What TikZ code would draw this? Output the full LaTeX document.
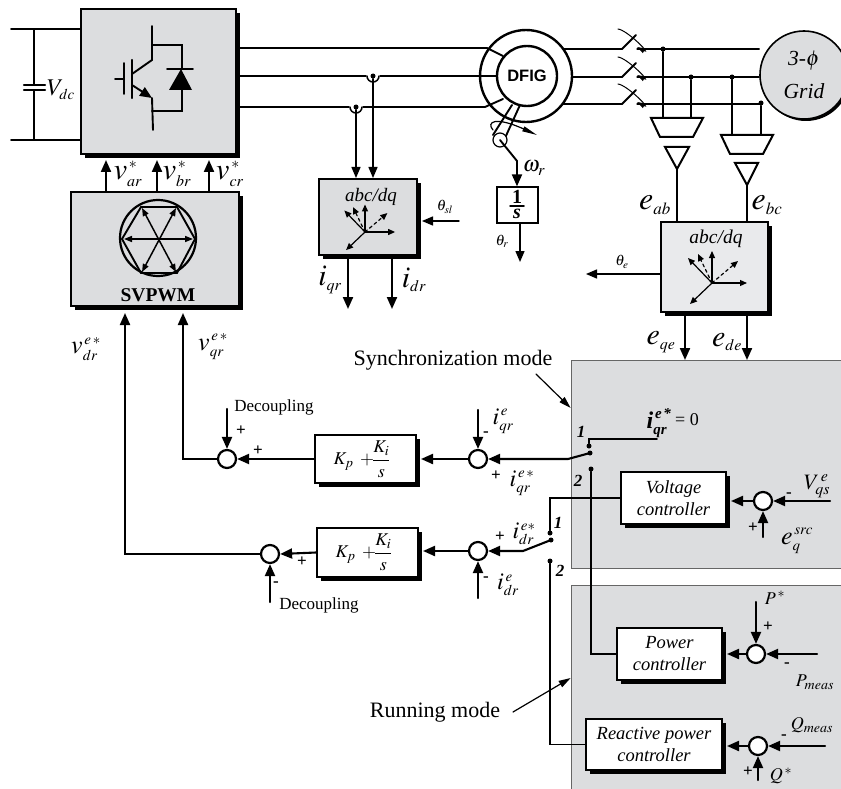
\documentclass[tikz,border=0pt]{standalone}
\usepackage{amsmath}
\usepackage{mathptmx}
\usepackage{fontspec}
\setmainfont{Liberation Serif}
\newfontfamily\dfigfont{Liberation Sans}
\usetikzlibrary{arrows.meta,shadows,calc}

\definecolor{panel}{HTML}{DCDDDF}
\definecolor{lightpanel}{HTML}{E9EAEC}

% big letters with small indices
\DeclareMathSizes{32}{32}{17}{12}
\DeclareMathSizes{30}{30}{16}{12}
\DeclareMathSizes{26}{26}{15}{10}
\DeclareMathSizes{24}{24}{15}{10}
\DeclareMathSizes{22}{22}{16}{10}
\DeclareMathSizes{18}{18}{14}{10}

\newcommand{\bi}[1]{\text{\bfseries\itshape #1}}

\tikzset{
  blockbox/.style={draw,line width=2pt,fill=panel,inner sep=0pt,
    drop shadow={shadow xshift=4pt,shadow yshift=-4pt,fill=black,opacity=1}},
  ctrlbox/.style={blockbox,fill=white,align=center,font=\itshape\fontsize{18.5}{22}\selectfont},
  sumnode/.style={draw,circle,line width=2.2pt,fill=white,minimum size=18pt,inner sep=0pt},
  lab/.style={inner sep=0pt,font=\fontsize{#1}{#1}\selectfont},
  itlab/.style={inner sep=0pt,font=\itshape\fontsize{#1}{#1}\selectfont},
  sig/.style={line width=2.1pt,-{Triangle[length=12pt,width=10pt]}},
  thinsig/.style={line width=1.4pt,-{Triangle[length=11pt,width=9pt]}},
  wire/.style={line width=1.9pt},
  thinwire/.style={line width=1.2pt},
  condot/.style={circle,fill=black,minimum size=5pt,inner sep=0pt},
}

% the rotating axes drawn inside both abc/dq blocks
\newcommand{\dqaxes}[2]{
\begin{scope}[shift={(#1)},scale=#2,-{Triangle[length=7pt,width=6pt]},line width=1.2pt]
\draw (0,0) -- (35,0);
\draw (0,0) -- (0,-32);
\draw (0,0) -- (-24,-25);
\draw (0,0) -- (-22,21);
\draw[dashed] (0,0) -- (26,-22);
\draw[dashed] (0,0) -- (-14,-29);
\end{scope}
}

% one breaker on the grid side, #1 is the point where the thin line starts
\newcommand{\breaker}[1]{
\draw[wire] (#1) ++(-16,0) -- ++(14,-14);
\draw[line width=1pt,-{Triangle[length=8pt,width=5pt]}] (#1) ++(-20,-20) .. controls ++(9,1) and ++(15,8) .. ++(19,18);
}

\begin{document}
\begin{tikzpicture}[x=1pt,y=-1pt,line cap=round]
\useasboundingbox (0,0) rectangle (841,789);
\clip (0,0) rectangle (841,789);

% grey panels
\node[draw=black!60,line width=0.7pt,fill=panel,minimum width=290pt,minimum height=208pt,inner sep=0pt] (syncpanel) at (716,464) {};
\node[draw=black!60,line width=0.7pt,fill=panel,minimum width=290pt,minimum height=214pt,inner sep=0pt] (runpanel) at (716,692) {};

% blocks
\node[blockbox,minimum width=155pt,minimum height=145pt] (inv) at (158.5,81.5) {};
\node[blockbox,minimum width=168pt,minimum height=114pt] (svpwm) at (155,249) {};
\node[blockbox,minimum width=98pt,minimum height=76pt] (rotdq) at (368,217) {};
\node[draw,line width=1.3pt,fill=white,minimum width=41pt,minimum height=36pt,inner sep=0pt] (integ) at (517.5,205) {};
\node[blockbox,fill=lightpanel,minimum width=107pt,minimum height=90pt] (griddq) at (714.5,267) {};
\node[ctrlbox,minimum width=101pt,minimum height=48pt] (piq) at (365.5,459) {};
\node[ctrlbox,minimum width=101pt,minimum height=49pt] (pid) at (367.5,552.5) {};
\node[ctrlbox,minimum width=105pt,minimum height=52pt] (volt) at (673.5,498) {Voltage\\controller};
\node[ctrlbox,minimum width=105pt,minimum height=52pt] (pow) at (669.5,654) {Power\\controller};
\node[ctrlbox,minimum width=136pt,minimum height=51pt] (react) at (654,744.5) {Reactive power\\controller};

% machine and grid
\node[draw,circle,line width=2.4pt,fill=white,minimum size=92pt,inner sep=0pt] (stator) at (526,76) {};
\node[draw,circle,line width=2.4pt,fill=white,minimum size=60pt,inner sep=0pt,font=\dfigfont\bfseries\fontsize{16.5}{16.5}\selectfont] (dfig) at (527,76) {DFIG};
\node[circle,fill=black,minimum size=88pt,inner sep=0pt] (gridshade) at (806,77) {};
\node[draw,circle,line width=1.6pt,fill=panel,minimum size=88pt,inner sep=0pt,align=center,font=\itshape\fontsize{21.5}{33}\selectfont] (grid) at (804,75) {3-$\phi$\\Grid};

% sums
\node[sumnode] (sumqo) at (227,459) {};
\node[sumnode] (sumqi) at (478,459) {};
\node[sumnode] (sumdo) at (270,554) {};
\node[sumnode] (sumdi) at (478,551) {};
\node[sumnode] (sumv) at (763,501) {};
\node[sumnode] (sump) at (756,654) {};
\node[sumnode] (sumr) at (758,746) {};

% named x positions and free ends
\coordinate (dcleft) at (11,29);
\coordinate (dcleftb) at (11,140);
\coordinate (capx) at (34,85);
\coordinate (capy) at (34,90);
\coordinate (aout) at (106,0);
\coordinate (bout) at (157,0);
\coordinate (cout) at (209,0);
\coordinate (phasea) at (240,48);
\coordinate (phaseb) at (240,76);
\coordinate (phasec) at (240,107);
\coordinate (taprb) at (373,76);
\coordinate (taprc) at (356,107);
\coordinate (qoutx) at (348,0);
\coordinate (doutx) at (392,0);
\coordinate (qoutend) at (348,309);
\coordinate (doutend) at (392,309);
\coordinate (slip) at (459,221);
\coordinate (vdrx) at (125,0);
\coordinate (vqrx) at (183,0);
\coordinate (decq) at (227,409);
\coordinate (decd) at (270,602);
\coordinate (qmeas) at (478,410);
\coordinate (dmeas) at (478,598);
\coordinate (vqs) at (830,501);
\coordinate (esrc) at (763,537);
\coordinate (pstar) at (756,602);
\coordinate (pmeas) at (817,654);
\coordinate (qstar) at (758,780);
\coordinate (qmeasr) at (825,746);
\coordinate (linea) at (563,49);
\coordinate (lineb) at (572,77);
\coordinate (linec) at (563,104);
\coordinate (gap) at (622,0);
\coordinate (gapr) at (637,0);

% dc link
\draw[wire] (dcleft) -- (dcleft -| inv.west);
\draw[wire] (dcleftb) -- (dcleftb -| inv.west);
\draw[wire] (dcleft -| capx) -- (capx);
\draw[wire] (capy) -- (dcleftb -| capy);
\draw[line width=2.1pt] (24,85) -- (45,85);
\draw[line width=2.1pt] (24,90) -- (45,90);
\node[lab=24] (vdc) at (61,90) {$V_{dc}$};

% igbt and diode
\draw[wire] (152,26) -- (152,60) -- (132,74);
\draw[line width=2.4pt] (132,60) -- (132,98);
\draw[wire] (124,63) -- (124,94);
\draw[wire] (115,79) -- (124,79);
\draw[wire,-{Triangle[length=12pt,width=10pt]}] (132,85) -- (152,98);
\draw[wire] (152,98) -- (153,130);
\draw[wire] (152,45) -- (182,45) -- (182,69);
\draw[wire] (182,90) -- (182,111) -- (152,111);
\draw[line width=1.9pt] (167,69) -- (193,69);
\fill (181,69) -- (169,90) -- (192,90) -- cycle;

% space vector hexagon
\draw[line width=2.2pt] (158,238) circle (38);
\draw[line width=1.9pt] (122,239) -- (141,207) -- (177,207) -- (195,239) -- (177,273) -- (141,273) -- cycle;
\draw[line width=1.5pt,{Triangle[length=8pt,width=6pt]}-{Triangle[length=8pt,width=6pt]}] (124,239) -- (193,239);
\draw[line width=1.5pt,{Triangle[length=8pt,width=6pt]}-{Triangle[length=8pt,width=6pt]}] (142,208) -- (176,272);
\draw[line width=1.5pt,{Triangle[length=8pt,width=6pt]}-{Triangle[length=8pt,width=6pt]}] (176,208) -- (142,272);
\node[inner sep=0pt,font=\bfseries\fontsize{19.5}{19.5}\selectfont] (svlabel) at (158,295) {SVPWM};

% svpwm outputs
\draw[sig] (aout |- svpwm.north) -- ($(aout |- inv.south)+(0,5)$);
\draw[sig] (bout |- svpwm.north) -- ($(bout |- inv.south)+(0,5)$);
\draw[sig] (cout |- svpwm.north) -- ($(cout |- inv.south)+(0,5)$);
\node[lab=30] (var) at (128,174) {$v_{ar}^{\,*}$};
\node[lab=30] (vbr) at (177,174) {$v_{br}^{\,*}$};
\node[lab=30] (vcr) at (230,174) {$v_{cr}^{\,*}$};

% rotor side phases
\draw[wire] (phasea) -- (487,48) -- (503,56);
\draw[wire] (phaseb) -- (497,76);
\draw[wire] (phasec) -- (485,107) -- (503,99);
\draw[white,line width=3.5pt] (taprb) ++(-5,0) -- ++(10,0);
\draw[white,line width=3.5pt] (taprc) ++(-5,0) -- ++(10,0);
\draw[line width=1.5pt] (taprb) ++(-6,0) arc[start angle=180,end angle=0,radius=6];
\draw[line width=1.5pt] (taprc) ++(-6,0) arc[start angle=180,end angle=0,radius=6];
\node[condot] (dotrb) at (taprb) {};
\node[condot] (dotrc) at (taprc) {};
\draw[thinsig] (dotrb) -- (dotrb |- rotdq.north);
\draw[thinsig] (dotrc) -- (dotrc |- rotdq.north);
\draw[sig] ($(qoutx |- rotdq.south)+(0,3)$) -- (qoutend);
\draw[sig] ($(doutx |- rotdq.south)+(0,3)$) -- (doutend);
\draw[thinsig] (slip) -- ($(slip -| rotdq.east)+(4,0)$);
\node[itlab=19] (rotdqtext) at (371,197) {abc/dq};
\dqaxes{365,232}{0.86}
\node[lab=30] (iqr) at (330,280) {$i_{qr}$};
\node[lab=30] (idr) at (414,280) {$i_{dr}$};
\node[lab=15] (thsl) at (445,207) {$\theta_{sl}$};

% shaft
\draw[wire] (512,105) -- (493,135);
\draw[wire] (520,105) -- (505,138);
\node[draw,circle,line width=1.2pt,fill=white,minimum size=14pt,inner sep=0pt] (shaft) at (500,140) {};
\draw[wire] (shaft.center) -- (517,161) coordinate (shaftend);
\draw[sig] (shaftend) -- (shaftend |- integ.north);
\draw[thinwire,-{Triangle[length=15pt,width=5pt]}] (493,130) .. controls (486,122) and (495,116) .. (537,135);
\draw[thinsig] (integ.south -| 520,0) -- (520,262);
\draw[line width=1.5pt] (510,206) -- (524,206);
\node[inner sep=0pt,font=\bfseries\fontsize{20}{20}\selectfont] (intnum) at (517,197) {1};
\node[inner sep=0pt,font=\bfseries\itshape\fontsize{20}{20}\selectfont] (intden) at (517,214) {s};
\node[lab=22] (omr) at (534,168) {$\omega_{r}$};
\node[lab=15] (thr) at (502,241) {$\theta_{r}$};

% stator lines and breakers
\draw[line width=2.1pt] (linea) -- (linea -| gap);
\draw[line width=2.1pt] (lineb) -- (lineb -| gap);
\draw[line width=2.1pt] (linec) -- (linec -| gap);
\draw[thinwire] (linea -| gapr) -- (linea -| grid.west);
\draw[thinwire] (lineb -| gapr) -- (lineb -| grid.west);
\draw[thinwire] (linec -| gapr) -- (linec -| grid.west);
\breaker{638,49}
\breaker{638,77}
\breaker{638,104}

% voltage sensors
\node[condot] (tapa) at (663,49) {};
\node[condot] (tapb) at (691,77) {};
\node[condot] (tapc) at (732,77) {};
\node[condot] (tapd) at (761,103) {};
\draw[line width=1.6pt] (tapa) -- (tapa |- 0,118);
\draw[line width=1.6pt] (tapb) -- (tapb |- 0,118);
\draw[line width=2.1pt] (tapc) -- (tapc |- 0,135);
\draw[line width=1.6pt] (tapd) -- (tapd |- 0,135);
\draw[line width=2pt] (651,118) -- (703,118) -- (693,137) -- (660,137) -- cycle;
\draw[line width=2pt] (721,135) -- (773,135) -- (763,154) -- (730,154) -- cycle;
\draw[line width=2pt] (665,147) -- (689,147) -- (677,169) coordinate (senseab) -- cycle;
\draw[line width=2pt] (735,163) -- (758,163) -- (747,185) coordinate (sensebc) -- cycle;
\draw[wire] (senseab) -- (senseab |- griddq.north);
\draw[wire] (sensebc) -- (sensebc |- griddq.north);
\node[lab=32] (eab) at (655,205) {$e_{ab}$};
\node[lab=32] (ebc) at (767,205) {$e_{bc}$};

% grid abc/dq
\node[itlab=19.5] (griddqtext) at (716,239) {abc/dq};
\dqaxes{712,283}{1}
\draw[thinsig] (griddq.west |- 0,274) -- (586,274);
\node[lab=15] (the) at (622,262) {$\theta_{e}$};
\draw[sig] ($(griddq.south -| 685,0)+(0,3)$) -- (685,360);
\draw[sig] ($(griddq.south -| 747,0)+(0,3)$) -- (747,360);
\node[lab=30] (eqe) at (661,342) {$e_{qe}$};
\node[lab=30] (ede) at (727,342) {$e_{de}$};

% outer voltage commands
\draw[sig] (sumdo.west) -- (vdrx |- sumdo.west) -- ($(vdrx |- svpwm.south)+(0,6)$);
\draw[sig] (sumqo.west) -- (vqrx |- sumqo.west) -- ($(vqrx |- svpwm.south)+(0,6)$);
\node[lab=26] (vdr) at (86,349) {$v_{dr}^{\,e\,*}$};
\node[lab=26] (vqr) at (213,347) {$v_{qr}^{\,e\,*}$};

% current loops
\draw[sig] (piq.west) -- (sumqo.east);
\draw[sig] (pid.west) -- (sumdo.east);
\draw[sig] (sumqi.west) -- ($(piq.east)+(4,0)$);
\draw[sig] (sumdi.west) -- ($(pid.east |- sumdi.west)+(4,0)$);
\draw[sig] (decq) -- (sumqo.north);
\draw[sig] (decd) -- (sumdo.south);
\draw[sig] (qmeas) -- (sumqi.north);
\draw[sig] (dmeas) -- (sumdi.south);
\node[lab=18] (piqtext) at (362,459) {$K_{p}\ \,{+}\!\dfrac{K_{i}}{s}$};
\node[lab=18] (pidtext) at (364,552) {$K_{p}\ \,{+}\!\dfrac{K_{i}}{s}$};
\node[lab=17] (decqtext) at (274,407) {Decoupling};
\node[lab=17] (decdtext) at (319,605) {Decoupling};
\node[lab=24] (iqre) at (503,421) {$i_{qr}^{\,e}$};
\node[lab=24] (iqrs) at (522,483) {$i_{qr}^{\,e\,*}$};
\node[lab=24] (idrs) at (524,534) {$i_{dr}^{\,e*}$};
\node[lab=24] (idre) at (508,585) {$i_{dr}^{\,e}$};

% mode switches
\node[condot] (swqa) at (589,446) {};
\node[condot] (swqb) at (590,453) {};
\node[condot] (swqc) at (591,469) {};
\node[condot] (swda) at (550,533) {};
\node[condot] (swdb) at (551,540) {};
\node[condot] (swdc) at (550,561) {};
\draw[sig] (swqb.center) -- (568,459) -- (sumqi.east);
\draw[sig] (swdb.center) -- (523,551) -- (sumdi.east);
\draw[wire] (swqa) -- (589,439) -- (657,439);
\draw[wire] (swqc) -- (swqc |- pow.west) -- (pow.west);
\draw[wire] (swda) -- (swda |- volt.west) -- (volt.west);
\draw[wire] (swdc) -- (swdc |- react.west) -- (react.west);
\node[lab=24] (zeroref) at (659,423) {$\bi{i}_{\bi{qr}}^{\,\bi{e}\,\bi{*}}$};
\node[lab=18] (zerotext) at (687,420) {= 0};

% outer controllers
\draw[sig] (sumv.west) -- ($(volt.east |- sumv.west)+(4,0)$);
\draw[sig] (sump.west) -- ($(pow.east |- sump.west)+(4,0)$);
\draw[sig] (sumr.west) -- ($(react.east |- sumr.west)+(4,0)$);
\draw[sig] (vqs) -- (sumv.east);
\draw[sig] (esrc) -- (sumv.south);
\draw[sig] (pstar) -- (sump.north);
\draw[sig] (pmeas) -- (sump.east);
\draw[sig] (qstar) -- (sumr.south);
\draw[sig] (qmeasr) -- (sumr.east);
\node[lab=22] (vqstext) at (817,486) {$V_{qs}^{\,e}$};
\node[lab=26] (esrctext) at (797,541) {$e_{q}^{\,src}$};
\node[lab=18] (pstext) at (775,598) {$P^{\,*}$};
\node[lab=18] (pmtext) at (815,682) {$P_{meas}$};
\node[lab=18] (qmtext) at (812,725) {$Q_{meas}$};
\node[lab=18] (qstext) at (781,776) {$Q^{\,*}$};

% small signs and switch numbers
\foreach \x/\y/\s [count=\i] in {241/431/+,258/451/+,302/562/+,276/584/-,486/434/-,
    496/476/+,500/537/+,486/579/-,789/495/-,753/528/+,768/627/+,787/665/-,784/737/-,748/772/+}
  \node[inner sep=0pt,font=\bfseries\fontsize{17}{17}\selectfont] (sign\i) at (\x,\y) {\s};
\foreach \x/\y/\s [count=\i] in {581/432/1,578/481/2,558/523/1,560/571/2}
  \node[inner sep=0pt,font=\bfseries\itshape\fontsize{17}{17}\selectfont] (num\i) at (\x,\y) {\s};

% mode captions
\node[lab=22] (synctext) at (453,360) {Synchronization mode};
\node[lab=22] (runtext) at (435,712) {Running mode};
\coordinate (syncfrom) at (536,374);
\coordinate (runfrom) at (513,712);
\draw[thinwire,-{Triangle[length=12pt,width=7pt]}] (syncfrom) -- (syncpanel.west |- 0,408);
\draw[thinwire,-{Triangle[length=12pt,width=7pt]}] (runfrom) -- (runpanel.west |- 0,678);

\end{tikzpicture}
\end{document}
